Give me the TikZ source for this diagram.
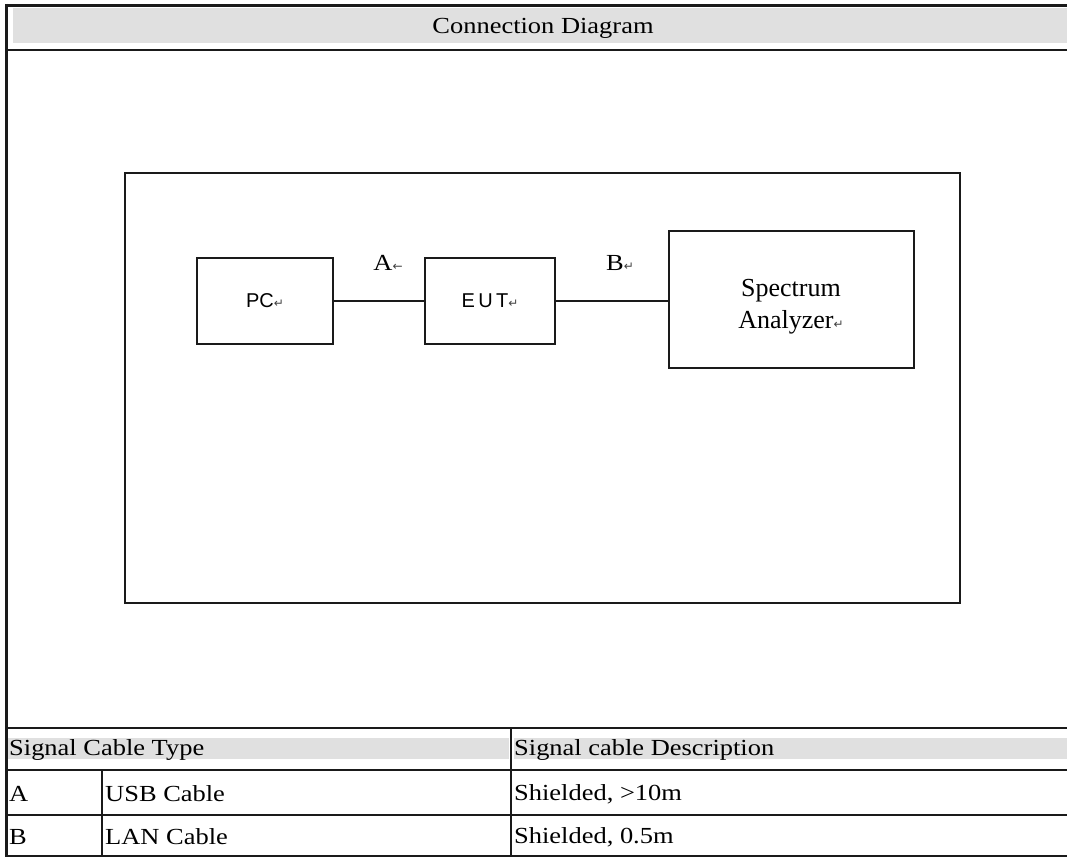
\documentclass[tikz,border=0pt]{standalone}
\usepackage{fontspec}
\setmainfont{Liberation Serif}[FakeStretch=1.15]
\newfontfamily\plainserif{Liberation Serif}
\newfontfamily\boxsans{Liberation Sans}
\newfontfamily\symf{DejaVu Sans}
\definecolor{band}{HTML}{E0E0E0}
\definecolor{ink}{HTML}{1A1A1A}
\newcommand{\pmark}{{\symf\fontsize{12}{12}\selectfont\color{black!75}↵}}
\newcommand{\lmark}{{\symf\fontsize{12}{12}\selectfont\color{black!75}←}}
\begin{document}
\begin{tikzpicture}[x=1pt,y=-1pt,
  frame/.style={draw=ink,line width=2.6pt},
  thin/.style={draw=ink,line width=2pt},
  devbox/.style={draw=ink,line width=2pt,inner sep=0pt,align=center},
  cell/.style={anchor=west,inner sep=0pt,font=\fontsize{23}{27}\selectfont},
  lbl/.style={inner sep=0pt,font=\fontsize{23}{27}\selectfont}]
\useasboundingbox (0,0) rectangle (1067,858);
% shading bands
\fill[band] (13,8) rectangle (1067,43);
\fill[band] (8,738) rectangle (509,759);
\fill[band] (514,738) rectangle (1067,759);
% outer table lines
\draw[frame] (5,5.5) -- (1067,5.5);
\draw[frame] (6.5,4) -- (6.5,857);
\draw[frame] (5,50) -- (1067,50);
\draw[frame] (5,728) -- (1067,728);
\draw[frame] (5,770) -- (1067,770);
\draw[frame] (5,815) -- (1067,815);
\draw[frame] (5,856) -- (1067,856);
\draw[frame] (511,728) -- (511,856);
\draw[frame] (102,770) -- (102,856);
% title
\node[lbl] (title) at (543,28) {Connection Diagram};
% inner frame
\node[draw=ink,line width=2.4pt,minimum width=835pt,minimum height=430pt,inner sep=0pt] (frame) at (542.5,388) {};
% devices
\node[devbox,minimum width=136pt,minimum height=86pt] (pc) at (265,301) {{\boxsans\fontsize{20}{22}\selectfont PC}\pmark};
\node[devbox,minimum width=130pt,minimum height=86pt] (eut) at (490,301) {{\boxsans\fontsize{20}{22}\selectfont E\,U\,T}\pmark};
\node[devbox,minimum width=245pt,minimum height=137pt] (sa) at (791.5,299.5) {};
\node[inner sep=0pt,align=center,font=\plainserif\fontsize{26}{32}\selectfont] (satext) at (791,307) {Spectrum\\Analyzer\pmark};
% connectors
\draw[thin] (pc.east) -- (eut.west);
\draw[thin] (eut.east) -- (eut.east -| sa.west);
% cable labels
\node[lbl] (la) at (388,263) {A\lmark};
\node[lbl] (lb) at (620,263) {B\pmark};
% table texts
\node[cell] (h1) at (9,750) {Signal Cable Type};
\node[cell] (h2) at (514,750) {Signal cable Description};
\node[cell] (ra) at (9,794) {A};
\node[cell] (rat) at (105,794) {USB Cable};
\node[cell] (rad) at (514,794) {Shielded, >10m};
\node[cell] (rb) at (9,837) {B};
\node[cell] (rbt) at (105,837) {LAN Cable};
\node[cell] (rbd) at (514,837) {Shielded, 0.5m};
\end{tikzpicture}
\end{document}
